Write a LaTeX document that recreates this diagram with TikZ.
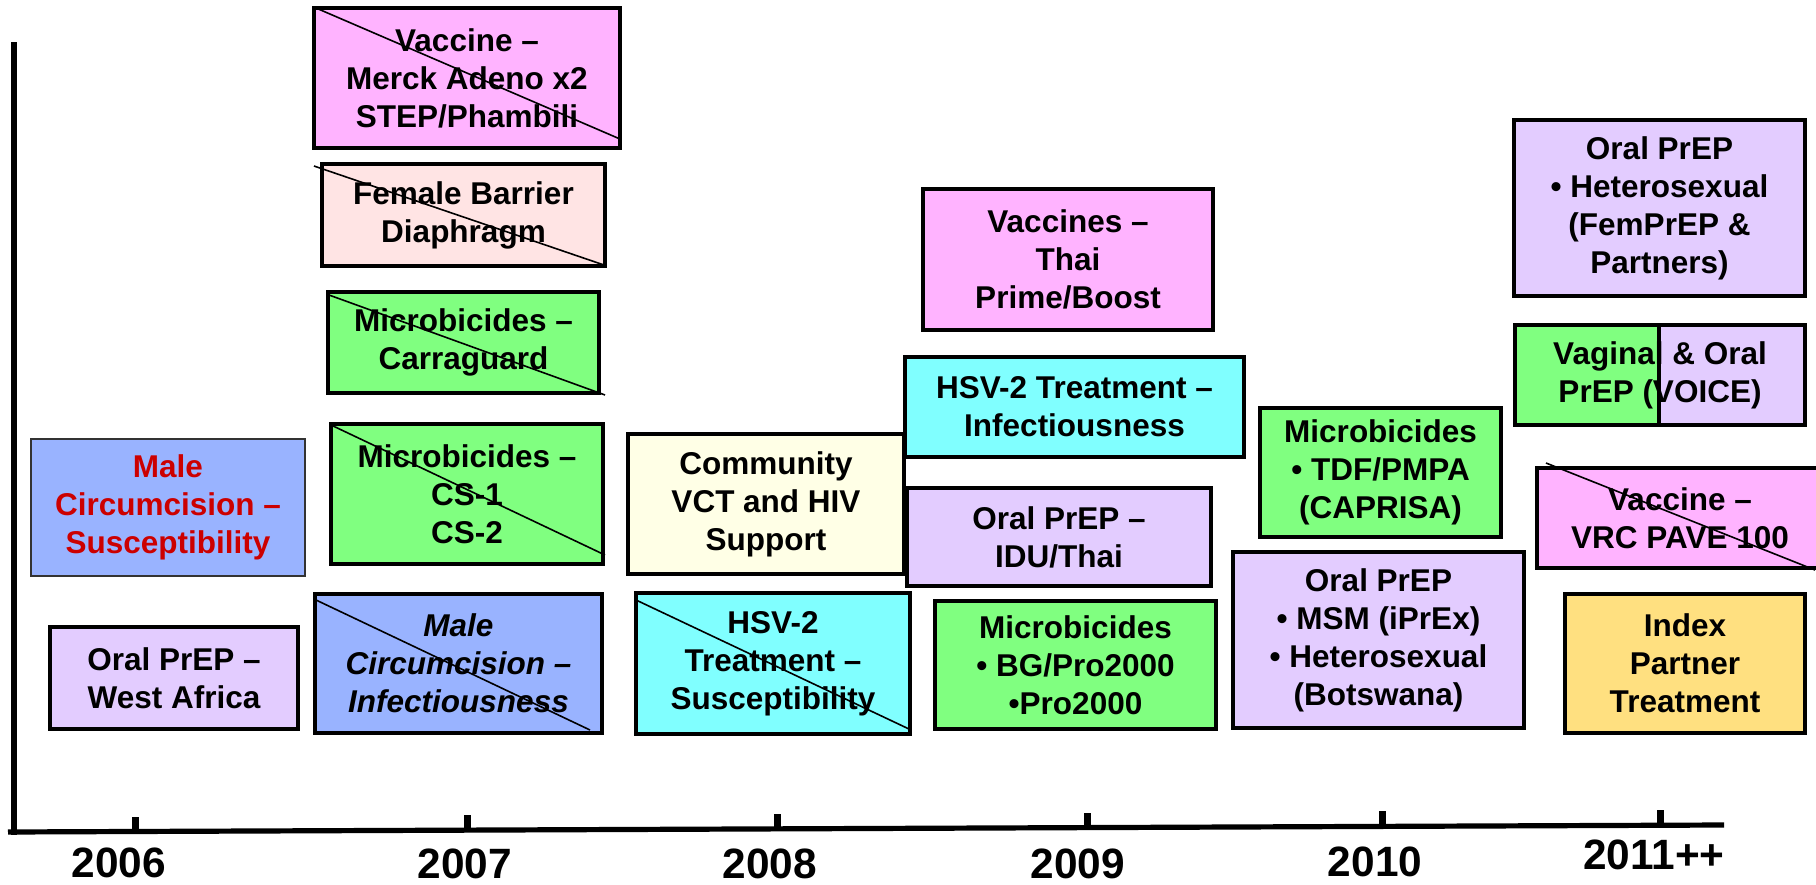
\documentclass[tikz,border=0pt]{standalone}
\usepackage{fontspec}
\setmainfont{Liberation Sans}
\usetikzlibrary{fit,calc}
\definecolor{vacpink}{HTML}{FFB3FF}
\definecolor{femPink}{HTML}{FFE4E4}
\definecolor{micgreen}{HTML}{80FF80}
\definecolor{mcblue}{HTML}{99B3FF}
\definecolor{preplav}{HTML}{E3CCFF}
\definecolor{vctyel}{HTML}{FFFFE6}
\definecolor{hsvcyan}{HTML}{80FFFF}
\definecolor{idxgold}{HTML}{FFE080}
\definecolor{mcred}{HTML}{CC0000}
\newcommand\bxfont{\fontsize{15.75}{19}\selectfont\bfseries}
\newcommand\yrfont{\fontsize{21.2}{24}\selectfont\bfseries}
\begin{document}
\begin{tikzpicture}[x=0.5pt,y=-0.5pt,
  box/.style={draw=black,line width=2pt,inner sep=0pt},
  txt/.style={align=center,font=\bxfont,inner sep=0pt},
  strike/.style={line width=0.8pt,black},
  axisline/.style={line width=2.6pt,black},
  tickmark/.style={line width=3.5pt,black},
  yearlbl/.style={font=\yrfont,anchor=base,inner sep=0pt}]
\useasboundingbox (0,0) rectangle (1816,884);

% axes
\coordinate (ytop) at (14,42);
\coordinate (ybot) at (14,835);
\coordinate (xleft) at (8,832);
\coordinate (xright) at (1724,825);
\draw[axisline] (ytop) -- (ybot);
\draw[axisline] (xleft) -- (xright);
\foreach \tx/\ty/\nm in {135/831.5/t6, 467/830/t7, 777/829/t8, 1087/827.6/t9, 1382/826.4/t10, 1660/825.3/t11}{
  \coordinate (\nm a) at (\tx,\ty);
  \coordinate (\nm b) at (\tx,\ty-15);
  \draw[tickmark] (\nm a) -- (\nm b);
}
\node[yearlbl] (y2006) at (119,877) {2006};
\node[yearlbl] (y2007) at (465,878) {2007};
\node[yearlbl] (y2008) at (770,878) {2008};
\node[yearlbl] (y2009) at (1078,878) {2009};
\node[yearlbl] (y2010) at (1375,876) {2010};
\node[yearlbl] (y2011) at (1654,869) {2011++};

% 2006
\node[box,fill=mcblue,draw=black!80,line width=1pt,fit={(31,439)(305,576)}] (mcsus) {};
\node[txt,text=mcred] (mcsust) at (mcsus.center) {Male\\Circumcision –\\Susceptibility};
\node[box,fill=preplav,fit={(50,627)(298,729)}] (westafrica) {};
\node[txt] (westafricat) at (westafrica.center) {Oral PrEP –\\West Africa};

% 2007
\node[box,fill=vacpink,fit={(314,8)(620,148)}] (merck) {};
\node[txt] (merckt) at (merck.center) {Vaccine –\\Merck Adeno x2\\STEP/Phambili};
\draw[strike] ([shift={(4,2)}]merck.north west) -- ([shift={(-2,-11)}]merck.south east);
\node[box,fill=femPink,fit={(322,164)(605,266)}] (female) {};
\node[txt] (femalet) at (female.center) {Female Barrier\\Diaphragm};
\draw[strike] ([shift={(-6,4)}]female.north west) -- ([shift={(-3,-3)}]female.south east);
\node[box,fill=micgreen,fit={(328,292)(599,393)}] (carra) {};
\node[txt] (carrat) at (carra.center) {Microbicides –\\Carraguard};
\draw[strike] ([shift={(3,5)}]carra.north west) -- ([shift={(4,0)}]carra.south east);
\node[box,fill=micgreen,fit={(331,424)(603,564)}] (cs) {};
\node[txt] (cst) at (cs.center) {Microbicides –\\CS-1\\CS-2};
\draw[strike] ([shift={(2,3)}]cs.north west) -- ([shift={(0,-11)}]cs.south east);
\node[box,fill=mcblue,fit={(315,594)(602,733)}] (mcinf) {};
\node[txt,font=\bxfont\itshape] (mcinft) at (mcinf.center) {Male\\Circumcision –\\Infectiousness};
\draw[strike] ([shift={(3,8)}]mcinf.north west) -- ([shift={(-14,-5)}]mcinf.south east);

% 2008
\node[box,fill=vctyel,fit={(628,434)(904,574)}] (vct) {};
\node[txt] (vctt) at (vct.center) {Community\\VCT and HIV\\Support};
\node[box,fill=hsvcyan,fit={(636,593)(910,734)}] (hsvsus) {};
\node[txt] (hsvsust) at (hsvsus.center) {HSV-2\\Treatment –\\Susceptibility};
\draw[strike] ([shift={(2,9)}]hsvsus.north west) -- ([shift={(-3,-7)}]hsvsus.south east);

% 2009
\node[box,fill=vacpink,fit={(923,189)(1213,330)}] (thai) {};
\node[txt] (thait) at (thai.center) {Vaccines –\\Thai\\Prime/Boost};
\node[box,fill=hsvcyan,fit={(905,357)(1244,457)}] (hsvinf) {};
\node[txt] (hsvinft) at (hsvinf.center) {HSV-2 Treatment –\\Infectiousness};
\node[box,fill=preplav,fit={(907,488)(1211,586)}] (idu) {};
\node[txt] (idut) at (idu.center) {Oral PrEP –\\IDU/Thai};
\node[box,fill=micgreen,fit={(935,601)(1216,729)}] (bg) {};
\node[txt] (bgt) at (bg.center) {Microbicides\\• BG/Pro2000\\•Pro2000};

% 2010
\node[box,fill=micgreen,fit={(1260,408)(1501,537)}] (tdf) {};
\node[txt] (tdft) at (tdf.center) {Microbicides\\• TDF/PMPA\\(CAPRISA)};
\node[box,fill=preplav,fit={(1233,552)(1524,728)}] (msm) {};
\node[txt] (msmt) at (msm.center) {Oral PrEP\\• MSM (iPrEx)\\• Heterosexual\\(Botswana)};

% 2011++
\node[box,fill=preplav,fit={(1514,120)(1805,296)}] (hetero) {};
\node[txt] (heterot) at (hetero.center) {Oral PrEP\\• Heterosexual\\(FemPrEP \&\\Partners)};
\node[box,fill=micgreen,fit={(1515,325)(1662,425)}] (voiceg) {};
\node[box,fill=preplav,fit={(1659,325)(1805,425)}] (voicel) {};
\node[txt] (voicet) at (1660,375) {Vaginal \& Oral\\PrEP (VOICE)};
\node[box,fill=vacpink,fit={(1537,468)(1823,568)}] (vrc) {};
\node[txt] (vrct) at (vrc.center) {Vaccine –\\VRC PAVE 100};
\draw[strike] ([shift={(11,-3)}]vrc.north west) -- ([shift={(-10,0)}]vrc.south east);
\node[box,fill=idxgold,fit={(1565,594)(1805,733)}] (index) {};
\node[txt] (indext) at (index.center) {Index\\Partner\\Treatment};
\end{tikzpicture}
\end{document}
